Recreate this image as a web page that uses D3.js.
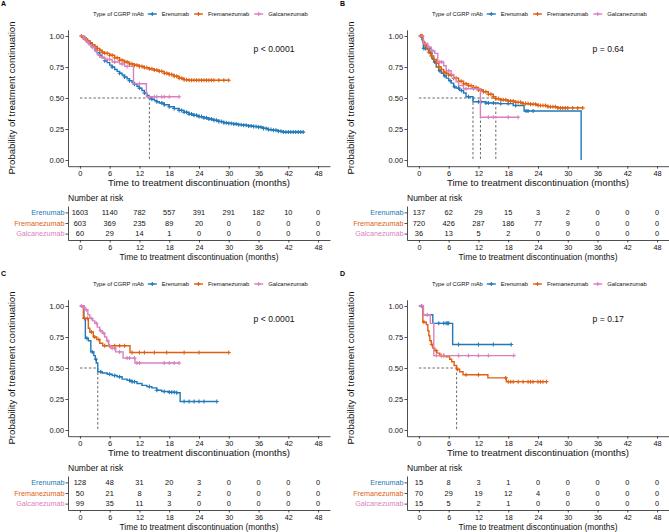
<!DOCTYPE html>
<html>
<head>
<meta charset="utf-8">
<script src="https://cdn.jsdelivr.net/npm/d3@7"></script>
<style>
body { margin: 0; background: #fff; }
text { font-family: "Liberation Sans", Arial, Helvetica, sans-serif; }
</style>
</head>
<body>
<script>
// Kaplan-Meier curves, 4 panels, with number-at-risk tables

const groups = ['Erenumab', 'Fremanezumab', 'Galcanezumab'];
const colors = ['#2179b8', '#de6010', '#da80bf'];
const timeTicks = [0, 6, 12, 18, 24, 30, 36, 42, 48];
const survTicks = [0, 0.25, 0.5, 0.75, 1];

// ---- panel A ----
const aEre = [[0,1],[0.5,0.99],[1,0.975],[1.5,0.96],[2,0.94],[2.5,0.915],[3,0.89],[3.5,0.865],[4,0.845],[4.5,0.825],[5,0.8],[5.5,0.785],[6,0.765],[6.5,0.75],[7,0.73],[7.5,0.715],[8,0.7],[8.5,0.685],[9,0.67],[9.5,0.655],[10,0.64],[10.5,0.625],[11,0.61],[11.5,0.595],[12,0.58],[12.5,0.56],[13,0.54],[13.5,0.52],[14,0.5],[14.5,0.49],[15,0.48],[15.5,0.47],[16,0.46],[17,0.445],[18,0.43],[19,0.415],[20,0.4],[21,0.385],[22,0.37],[23,0.36],[24,0.35],[25,0.34],[26,0.33],[27,0.32],[28,0.31],[29,0.3],[30,0.295],[31,0.29],[32,0.285],[33,0.28],[34,0.275],[35,0.27],[36,0.265],[37,0.255],[38,0.245],[39,0.24],[40,0.232],[41,0.225],[45,0.225]];
const aEreC = [0.8,1.5,2.5,3.2,4,5,6.5,8,9,10,11,12,13,14.5,15.5,16.5,17,18,19,20,20.5,21,21.5,22,22.5,23,23.5,24,24.5,25,25.5,26,26.5,27,27.5,28,28.5,29,29.5,30,30.5,31,31.5,32,32.5,33,33.5,34,34.5,35,35.5,36,36.5,37,37.5,38,38.5,39,39.5,40,40.5,41,41.5,42,42.5,43,43.5,44,44.5,45];
const aFre = [[0,1],[0.5,0.99],[1,0.975],[1.5,0.96],[2,0.945],[2.5,0.93],[3,0.915],[3.5,0.9],[4,0.885],[4.5,0.87],[5,0.86],[6,0.845],[7,0.825],[8,0.805],[9,0.79],[10,0.775],[11,0.765],[12,0.755],[13,0.745],[14,0.735],[15,0.725],[16,0.715],[17,0.7],[18,0.69],[19,0.675],[20,0.66],[21,0.648],[22,0.643],[30,0.643]];
const aFreC = [0.3,0.6,1,1.3,1.6,2,2.5,3,3.5,4,4.5,5,5.5,6,6.5,7,7.5,8,8.5,9,9.5,10,10.5,11,11.5,12,12.5,13,13.5,14,14.5,15,15.5,16,16.5,17,17.5,18,18.5,19,19.5,20,20.5,21,21.5,22,22.5,23,23.5,24,24.5,25,25.5,26,26.5,27,28,29,30];
const aGal = [[0,1],[0.8,0.98],[1.3,0.95],[1.8,0.93],[2.3,0.91],[3,0.88],[3.5,0.85],[4,0.83],[5,0.81],[6.5,0.79],[8,0.775],[9,0.755],[10.8,0.615],[13.4,0.51],[20,0.51]];
const aGalC = [1,1.6,2.6,3.3,4.5,5.5,6,7,8.5,9.5,12,14,15,15.5,16.5,17,18,20];
const aMed = [14];
const aRisk = [[1603,1140,782,557,391,291,182,10,0],[603,369,235,89,20,0,0,0,0],[60,29,14,1,0,0,0,0,0]];

// ---- panel B ----
const bEre = [[0,1],[0.6,0.97],[0.9,0.9],[2.2,0.86],[2.6,0.82],[3,0.79],[3.5,0.75],[4,0.72],[4.5,0.7],[5,0.68],[5.5,0.66],[6,0.64],[6.5,0.62],[7,0.59],[7.5,0.58],[8.2,0.56],[9,0.54],[9.5,0.51],[10.9,0.47],[13.5,0.46],[16,0.455],[19,0.44],[21.2,0.395],[32.7,0]];
const bEreC = [1,1.3,2,2.4,3.2,4.2,5.2,6.3,7.2,8,8.6,10,12,12.5,13.5,14,15,16.5,18,19.5,21.6,22,23];
const bFre = [[0,1],[0.8,0.95],[1.2,0.92],[1.6,0.89],[2,0.87],[2.5,0.84],[3,0.81],[3.5,0.78],[4,0.75],[4.5,0.73],[5,0.71],[5.5,0.7],[6,0.685],[7,0.66],[8,0.635],[9,0.615],[10,0.6],[11,0.585],[12,0.565],[13,0.55],[14,0.53],[15,0.51],[15.5,0.495],[16.5,0.485],[18,0.475],[19.5,0.465],[21,0.455],[22.5,0.45],[24,0.44],[26,0.43],[28,0.42],[33,0.42]];
const bFreC = [0.3,0.5,0.7,1,1.5,2,2.5,3,3.5,4,4.5,5,5.5,6,6.5,7,7.5,8,8.5,9,9.5,10,10.5,11,11.5,12,12.5,13,13.5,14,14.5,15,15.5,16,16.5,17,17.5,18,18.5,19,19.5,20,20.5,21,21.5,22,22.5,23,23.5,24,24.5,25,25.5,26,26.5,27,27.5,28,28.5,29,29.5,30,31,32,33];
const bGal = [[0,1],[0.9,0.94],[1.8,0.91],[2.5,0.88],[3.2,0.86],[3.8,0.79],[5,0.76],[5.5,0.72],[6.5,0.69],[7,0.66],[7.5,0.63],[8,0.6],[9,0.575],[12.4,0.345],[20,0.345]];
const bGalC = [2,2.8,4.2,4.6,6,9.5,11,14,15,18,20];
const bMed = [10.9, 12.4, 15.5];
const bRisk = [[137,62,29,15,3,2,0,0,0],[720,426,287,186,77,9,0,0,0],[36,13,5,2,0,0,0,0,0]];

// ---- panel C ----
const cEre = [[0,1],[0.8,0.9],[1.1,0.74],[1.7,0.72],[2.2,0.63],[2.8,0.6],[3.1,0.57],[3.3,0.54],[3.6,0.47],[4.5,0.46],[5.5,0.45],[6.5,0.44],[7.5,0.43],[8.5,0.41],[9.5,0.4],[10.5,0.39],[11.5,0.375],[12.5,0.36],[13.5,0.35],[14.5,0.34],[15.5,0.32],[16.5,0.31],[18,0.305],[19.5,0.3],[20.2,0.23],[27.6,0.23]];
const cEreC = [1.4,2.5,3.2,4.2,6,7,8,10,10.5,11,14,15.5,17,18,18.5,19,19.5,21,22,23,24,25,27.6];
const cFre = [[0,1],[0.7,0.9],[1.7,0.82],[2,0.79],[2.7,0.75],[3.4,0.73],[4,0.7],[4.6,0.68],[10.1,0.625],[30,0.625]];
const cFreC = [0.9,1.5,2.3,3,3.8,5,6,7,8,9,10.5,12,13,15,17.5,21,24,30];
const cGal = [[0,1],[0.6,0.99],[1,0.97],[1.6,0.93],[2,0.9],[2.6,0.88],[3,0.86],[3.5,0.83],[4,0.8],[4.5,0.78],[5,0.75],[5.4,0.72],[5.8,0.68],[6.2,0.66],[7.2,0.63],[8.7,0.58],[11.1,0.54],[20,0.54]];
const cGalC = [0.3,0.8,1.3,2.3,3.3,4.2,4.8,5.6,6.5,7,8,9.5,10,11,11.5,12,17,18,19,20];
const cMed = [3.6];
const cRisk = [[128,48,31,20,3,0,0,0,0],[50,21,8,3,2,0,0,0,0],[99,35,11,3,0,0,0,0,0]];

// ---- panel D ----
const dEre = [[0,1],[0.9,0.93],[2.8,0.86],[6.8,0.69],[18.6,0.69]];
const dEreC = [0.5,4,5,5.5,5.8,6,8,12,15,18.6];
const dFre = [[0,1],[0.8,0.87],[1.5,0.85],[1.8,0.8],[2,0.76],[2.2,0.72],[2.5,0.69],[2.8,0.66],[3.2,0.64],[3.6,0.62],[4.2,0.6],[5.5,0.59],[6.2,0.57],[6.6,0.55],[7.1,0.52],[7.6,0.49],[8.2,0.47],[8.9,0.445],[13.9,0.42],[17.6,0.39],[25.7,0.39]];
const dFreC = [1,2.6,3.5,4.5,5,7.8,9.5,12,17.5,18,18.5,19,20,21,22,22.5,23,24,24.5,25,25.7];
const dGal = [[0,1],[0.9,0.93],[2.3,0.86],[3,0.6],[19.1,0.6]];
const dGalC = [0.6,1.7,3.5,5,8,10,12,14,19.1];
const dMed = [7.6];
const dRisk = [[15,8,3,1,0,0,0,0,0],[70,29,19,12,4,0,0,0,0],[15,5,2,1,0,0,0,0,0]];

const panels = [
    {label: 'A', ox: 0,   oy: 0,   curves: [aEre, aFre, aGal], cens: [aEreC, aFreC, aGalC], med: aMed, risk: aRisk, p: 'p < 0.0001'},
    {label: 'B', ox: 339, oy: 0,   curves: [bEre, bFre, bGal], cens: [bEreC, bFreC, bGalC], med: bMed, risk: bRisk, p: 'p = 0.64'},
    {label: 'C', ox: 0,   oy: 270, curves: [cEre, cFre, cGal], cens: [cEreC, cFreC, cGalC], med: cMed, risk: cRisk, p: 'p < 0.0001'},
    {label: 'D', ox: 339, oy: 270, curves: [dEre, dFre, dGal], cens: [dEreC, dFreC, dGalC], med: dMed, risk: dRisk, p: 'p = 0.17'}
];

const axisCol = '#222';
const xTitle = 'Time to treatment discontinuation (months)';

const svg = d3.select('body').append('svg')
    .attr('width', 669)
    .attr('height', 532);

// value of a step curve at time t
const stepAt = (curve, t) => {
    let v = curve[0][1];
    curve.forEach(d => { if (d[0] <= t) v = d[1]; });
    return v;
};

const styleAxis = (sel, fs) => {
    sel.attr('font-family', null).attr('font-size', fs);
    sel.selectAll('.domain').attr('stroke', axisCol).attr('stroke-width', 0.8);
    sel.selectAll('.tick line').attr('stroke', axisCol).attr('stroke-width', 0.8);
    sel.selectAll('.tick text').attr('fill', '#111');
};

function drawPanel(pn) {
    const g = svg.append('g').attr('transform', `translate(${pn.ox},${pn.oy})`);

    const x = d3.scaleLinear().domain([-2.4, 50.4]).range([68, 330]);
    const y = d3.scaleLinear().domain([-0.05, 1.05]).range([166.2, 29.8]);

    // panel letter
    g.append('text').attr('x', 1).attr('y', 6)
        .attr('font-size', 7).attr('font-weight', 'bold').text(pn.label);

    // legend
    const leg = g.append('g').attr('transform', 'translate(93,14)');
    let lx = 0;
    const lt = leg.append('text').attr('x', 0).attr('dy', '0.35em')
        .attr('font-size', 5.8).attr('fill', '#111').text('Type of CGRP mAb');
    lx += lt.node().getComputedTextLength() + 4;
    groups.forEach((grp, i) => {
        leg.append('line').attr('x1', lx).attr('x2', lx + 9).attr('y1', 0).attr('y2', 0)
            .attr('stroke', colors[i]).attr('stroke-width', 1.4);
        leg.append('path').attr('d', `M${lx + 2.5},0h4M${lx + 4.5},-2v4`)
            .attr('stroke', colors[i]).attr('stroke-width', 1.1);
        lx += 14;
        const t = leg.append('text').attr('x', lx).attr('dy', '0.35em')
            .attr('font-size', 5.9).attr('fill', '#111').text(grp);
        lx += t.node().getComputedTextLength() + 5;
    });

    // axes
    g.append('g').attr('transform', 'translate(68,0)')
        .call(d3.axisLeft(y).tickValues(survTicks).tickFormat(d3.format('.2f'))
            .tickSize(2.5).tickSizeOuter(0).tickPadding(1.5))
        .call(s => styleAxis(s, 7.4));
    g.append('g').attr('transform', 'translate(0,166.2)')
        .call(d3.axisBottom(x).tickValues(timeTicks).tickSize(2.5).tickSizeOuter(0).tickPadding(2.3))
        .call(s => styleAxis(s, 7.4));

    g.append('text')
        .attr('transform', 'translate(12,98) rotate(-90)')
        .attr('text-anchor', 'middle').attr('dy', '0.35em')
        .attr('font-size', 9.6).attr('fill', '#111')
        .text('Probability of treatment continuation');
    g.append('text').attr('x', 199).attr('y', 183).attr('dy', '0.35em')
        .attr('text-anchor', 'middle').attr('font-size', 9.6).attr('fill', '#111')
        .text(xTitle);

    // median lines
    const medMax = d3.max(pn.med);
    const dash = g.append('g').attr('stroke', '#444').attr('stroke-width', 0.8)
        .attr('stroke-dasharray', '2.5,2').attr('fill', 'none');
    dash.append('line').attr('x1', x(0)).attr('x2', x(medMax)).attr('y1', y(0.5)).attr('y2', y(0.5));
    pn.med.forEach(m => {
        dash.append('line').attr('x1', x(m)).attr('x2', x(m)).attr('y1', y(0.5)).attr('y2', y(0));
    });

    // curves
    const line = d3.line().x(d => x(d[0])).y(d => y(d[1])).curve(d3.curveStepAfter);
    pn.curves.forEach((c, i) => {
        g.append('path').datum(c).attr('d', line)
            .attr('fill', 'none').attr('stroke', colors[i]).attr('stroke-width', 1.4);
        g.selectAll(null).data(pn.cens[i]).enter().append('path')
            .attr('d', t => {
                const cx = x(t), cy = y(stepAt(c, t));
                return `M${cx - 2},${cy}h4M${cx},${cy - 2}v4`;
            })
            .attr('stroke', colors[i]).attr('stroke-width', 1.1);
    });

    // p value
    g.append('text').attr('x', x(35)).attr('y', y(0.895)).attr('dy', '0.35em')
        .attr('font-size', 8.6).attr('fill', '#111').text(pn.p);

    // risk table
    g.append('text').attr('x', 68).attr('y', 198.3).attr('dy', '0.35em')
        .attr('font-size', 8.5).attr('fill', '#111').text('Number at risk');

    const yR = d3.scaleLinear().domain([0.4, 3.6]).range([206, 240]);
    const ra = g.append('g').attr('transform', 'translate(68,0)')
        .call(d3.axisLeft(yR).tickValues([1, 2, 3]).tickFormat(d => groups[d - 1])
            .tickSize(2.5).tickSizeOuter(0).tickPadding(1))
        .call(s => styleAxis(s, 7.2));
    ra.selectAll('.tick text').attr('fill', (d) => colors[d - 1]);

    g.append('g').attr('transform', 'translate(0,240)')
        .call(d3.axisBottom(x).tickValues(timeTicks).tickSize(2.5).tickSizeOuter(0).tickPadding(2.3))
        .call(s => styleAxis(s, 7.2));

    pn.risk.forEach((row, i) => {
        g.selectAll(null).data(row).enter().append('text')
            .attr('x', (d, j) => x(timeTicks[j]))
            .attr('y', yR(i + 1)).attr('dy', '0.35em')
            .attr('text-anchor', 'middle').attr('font-size', 7.4).attr('fill', '#111')
            .text(d => d);
    });

    g.append('text').attr('x', 199).attr('y', 256.7).attr('dy', '0.35em')
        .attr('text-anchor', 'middle').attr('font-size', 8.4).attr('fill', '#111')
        .text(xTitle);
}

panels.forEach(drawPanel);
</script>
</body>
</html>
